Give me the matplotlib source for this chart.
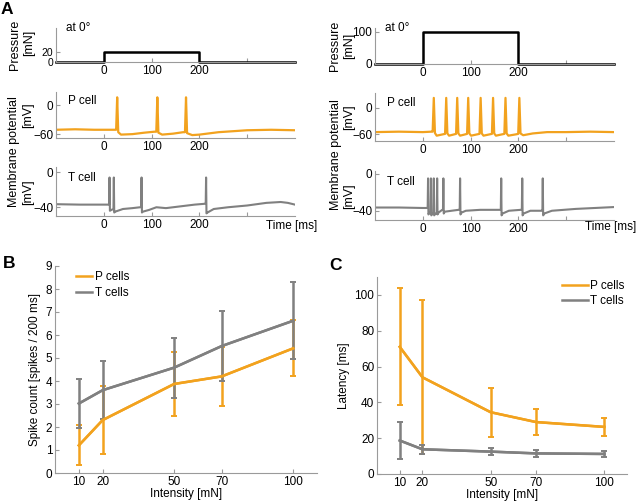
import numpy as np
import matplotlib
matplotlib.use('Agg')
import matplotlib.pyplot as plt

plt.rcParams['font.family'] = ['Liberation Sans', 'DejaVu Sans']

ORANGE = '#F2A21E'
GRAY = '#808080'
AXC = '#9a9a9a'

# ---- panel A data ----
# pressure steps
pl_t = [-100, 0, 0, 200, 200, 400]
pl_v = [0, 0, 20, 20, 0, 0]
pr_t = [-100, 0, 0, 200, 200, 400]
pr_v = [0, 0, 100, 100, 0, 0]

# left P cell
pL_bt = [-100, -60, -20, 24, 36, 60, 85, 106, 122, 145, 166, 185, 200, 240, 300, 350, 400]
pL_bv = [-51, -50, -51, -51, -61, -60, -57, -55, -61, -59, -56, -62, -61, -56, -52, -51, -52]
pL_spk = [28, 112, 172]
pL_pre = [-51, -55, -56]
pL_post = [-56, -57, -58]

# right P cell
pR_bt = [-100, -50, 0, 18, 29, 42, 55, 66, 78, 89, 101, 114, 127, 140, 153, 166, 179, 195,
         210, 230, 260, 300, 350, 400]
pR_bv = [-55, -54, -55, -54, -63, -60, -63, -60, -63, -60, -63, -60, -63, -60, -63, -60, -63, -60,
         -62, -58, -55, -55, -54, -55]
pR_spk = [23, 49, 72, 95, 121, 147, 173, 202]
pR_pre = [-54, -59, -59, -59, -59, -59, -59, -59]
pR_post = [-57, -58, -58, -58, -58, -58, -58, -58]

# left T cell
tL_bt = [-100, -50, 0, 10, 16, 24, 40, 60, 76, 82, 95, 110, 130, 160, 190, 212,
         217, 230, 260, 300, 340, 370, 385, 400]
tL_bv = [-36.5, -37, -37, -37, -43, -45, -42, -41, -40, -45, -43, -40, -41, -39, -37, -36,
         -46, -42, -40, -38, -35, -34, -35, -37]
tL_spk = [12, 21, 79, 214]
tL_pre = [-37, -42, -40, -36]
tL_post = [-44, -46, -46, -47]

# right T cell
tR_bt = [-100, -50, 0, 9, 14, 20, 26, 33, 38, 41, 46, 60, 75, 81, 90, 120, 160, 167, 180,
         205, 211, 225, 248, 254, 270, 320, 360, 400]
tR_bv = [-36.5, -36.5, -37, -37, -42, -43, -43, -42, -40, -39, -41, -40, -39, -42, -40, -39, -39,
         -43, -40, -39, -43, -40, -40, -43, -40, -38, -37, -36]
tR_spk = [11, 17, 23, 30, 43, 78, 164, 208, 251]
tR_pre = [-37, -42, -43, -43, -39, -39, -39, -39, -40]
tR_post = [-44, -45, -45, -44, -43, -44, -45, -45, -45]

# ---- panel B / C data ----
intensity = [10, 20, 50, 70, 100]
spk_P = [1.2, 2.3, 3.87, 4.2, 5.42]
spk_P_sd = [0.87, 1.47, 1.4, 1.27, 1.22]
spk_T = [3.02, 3.6, 4.58, 5.52, 6.62]
spk_T_sd = [1.06, 1.25, 1.3, 1.54, 1.68]
lat_P = [71, 54, 34.5, 29, 26.3]
lat_P_sd = [32.6, 43, 13.7, 7.5, 5]
lat_T = [18.7, 13.8, 12.5, 11.5, 11.2]
lat_T_sd = [10.3, 2.5, 1.8, 1.8, 1.7]


def trace(bt, bv, spk, pre, post, peak, w):
    pts = list(zip(bt, bv))
    for s, a, b in zip(spk, pre, post):
        pts += [(s - w, a), (s, peak), (s + w, b)]
    pts.sort()
    return [p[0] for p in pts], [p[1] for p in pts]


fig = plt.figure(figsize=(6.4, 5.01), dpi=100)


def box(x0, y0, x1, y1):
    return fig.add_axes([x0 / 640, 1 - y1 / 501, (x1 - x0) / 640, (y1 - y0) / 501])


def style(ax, fs=8.5):
    for s in ['top', 'right']:
        ax.spines[s].set_visible(False)
    for s in ['left', 'bottom']:
        ax.spines[s].set_color(AXC)
        ax.spines[s].set_linewidth(0.8)
    ax.tick_params(direction='in', length=3, width=0.8, color=AXC, labelsize=fs, pad=2)
    ax.patch.set_alpha(0)


def trace_ax(ax, ylim, yt):
    style(ax)
    ax.set_xlim(-100, 400)
    ax.set_ylim(*ylim)
    ax.set_xticks([0, 100, 200, 300], ['0', '100', '200', ''])
    ax.set_yticks(yt)


# left column of A
a1 = box(56, 28, 295, 62)
trace_ax(a1, (0, 70), [0, 20])
a1.tick_params(axis='y', labelsize=7.5)
a1.plot(pl_t, pl_v, color='black', lw=1.8, clip_on=False)
a2 = box(56, 92, 295, 138)
trace_ax(a2, (-68, 27), [-60, 0])
a2.plot(*trace(pL_bt, pL_bv, pL_spk, pL_pre, pL_post, 16, 2.2), color=ORANGE, lw=1.6)
a3 = box(56, 167, 295, 216)
trace_ax(a3, (-50, 6), [-40, 0])
a3.plot(*trace(tL_bt, tL_bv, tL_spk, tL_pre, tL_post, -6, 0.8), color=GRAY, lw=1.5)

# right column of A
a4 = box(375, 28, 614, 64)
trace_ax(a4, (0, 112), [0, 100])
a4.plot(pr_t, pr_v, color='black', lw=1.8, clip_on=False)
a5 = box(375, 93, 614, 141)
trace_ax(a5, (-75, 33), [-60, 0])
a5.plot(*trace(pR_bt, pR_bv, pR_spk, pR_pre, pR_post, 22, 2.4), color=ORANGE, lw=1.6)
a6 = box(375, 171, 614, 220)
trace_ax(a6, (-50, 3), [-40, 0])
a6.plot(*trace(tR_bt, tR_bv, tR_spk, tR_pre, tR_post, -5, 0.8), color=GRAY, lw=1.5)

for ax in (a1, a4):
    ax.text(0.04, 1.0, 'at 0°', transform=ax.transAxes, fontsize=8.5, va='center')
for ax in (a2, a5):
    ax.text(0.05, 0.8, 'P cell', transform=ax.transAxes, fontsize=8.5, va='center')
for ax in (a3, a6):
    ax.text(0.05, 0.78, 'T cell', transform=ax.transAxes, fontsize=8.5, va='center')


def ft(x, y, s, **kw):
    fig.text(x / 640, 1 - y / 501, s, **kw)


lab = dict(rotation=90, ha='center', va='center', fontsize=9)
ft(15, 45, 'Pressure', **lab)
ft(29, 43, '[mN]', **lab)
ft(335, 46, 'Pressure', **lab)
ft(349, 46, '[mN]', **lab)
ft(14, 152, 'Membrane potential', **lab)
ft(28, 115, '[mV]', **lab)
ft(28, 192, '[mV]', **lab)
ft(336, 155, 'Membrane potential', **lab)
ft(349, 117, '[mV]', **lab)
ft(349, 196, '[mV]', **lab)
ft(317, 226, 'Time [ms]', ha='right', va='center', fontsize=8.5)
ft(636, 227, 'Time [ms]', ha='right', va='center', fontsize=8.5)

ft(1, 10, 'A', fontsize=12.5, fontweight='bold', va='center')
ft(3, 263, 'B', fontsize=12.5, fontweight='bold', va='center')
ft(329, 265, 'C', fontsize=12.5, fontweight='bold', va='center')

# panel B
b = box(55, 266, 317, 473)
style(b, 8.5)
eb = dict(lw=1.8, elinewidth=1.8, capsize=2.5, capthick=1.4)
b.errorbar(intensity, spk_P, yerr=spk_P_sd, color=ORANGE, **eb)
b.errorbar(intensity, spk_T, yerr=spk_T_sd, color=GRAY, **eb)
b.plot(intensity, spk_P, color=ORANGE, lw=1.8, label='P cells')
b.plot(intensity, spk_T, color=GRAY, lw=1.8, label='T cells')
b.set_xlim(0, 110)
b.set_ylim(0, 9)
b.set_xticks(intensity)
b.set_yticks(range(10))
b.set_xlabel('Intensity [mN]', fontsize=8.5, labelpad=0)
b.set_ylabel('Spike count [spikes / 200 ms]', fontsize=8.5, labelpad=3)
b.legend(loc='upper left', bbox_to_anchor=(0.08, 0.975), frameon=False, fontsize=8.5,
         handlelength=1.4, handletextpad=0.2, borderpad=0, borderaxespad=0, labelspacing=0.3)

# panel C
c = box(377, 277, 627, 474)
style(c, 8.5)
c.errorbar(intensity, lat_P, yerr=lat_P_sd, color=ORANGE, **eb)
c.errorbar(intensity, lat_T, yerr=lat_T_sd, color=GRAY, **eb)
c.plot(intensity, lat_P, color=ORANGE, lw=1.8, label='P cells')
c.plot(intensity, lat_T, color=GRAY, lw=1.8, label='T cells')
c.set_xlim(0, 110)
c.set_ylim(0, 110)
c.set_xticks(intensity)
c.set_yticks(range(0, 101, 20))
c.set_xlabel('Intensity [mN]', fontsize=8.5, labelpad=0)
c.set_ylabel('Latency [ms]', fontsize=8.5, labelpad=3)
c.legend(loc='upper right', bbox_to_anchor=(0.99, 0.985), frameon=False, fontsize=8.5,
         handlelength=2.2, handletextpad=0.2, borderpad=0, borderaxespad=0, labelspacing=0.3)

fig.savefig('out.png', dpi=100)
